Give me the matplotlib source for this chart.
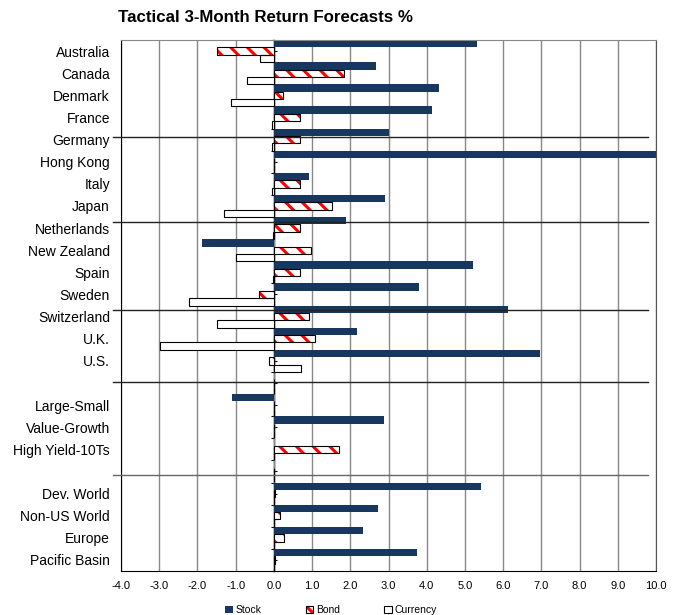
import numpy as np
import matplotlib.pyplot as plt
from matplotlib.patches import Patch
from matplotlib.legend_handler import HandlerTuple

plt.rcParams['font.family'] = ['Liberation Sans', 'DejaVu Sans']
plt.rcParams['hatch.linewidth'] = 2.2

# data (blank slots are spacer rows)
categories = ['Australia', 'Canada', 'Denmark', 'France', 'Germany', 'Hong Kong',
              'Italy', 'Japan', 'Netherlands', 'New Zealand', 'Spain', 'Sweden',
              'Switzerland', 'U.K.', 'U.S.', '', 'Large-Small', 'Value-Growth',
              'High Yield-10Ts', '', 'Dev. World', 'Non-US World', 'Europe',
              'Pacific Basin']
stock = [5.31, 2.66, 4.32, 4.15, 3.00, 10.2, 0.92, 2.91, 1.89, -1.88, 5.21, 3.80,
         6.13, 2.17, 6.97, 0, -1.10, 2.89, 0, 0, 5.41, 2.72, 2.32, 3.75]
bond = [-1.50, 1.84, 0.23, 0.69, 0.69, 0, 0.69, 1.53, 0.69, 0.98, 0.69, -0.38,
        0.91, 1.08, -0.14, 0, 0, 0, 1.71, 0, 0.04, 0.17, 0.26, 0.04]
currency = [-0.37, -0.71, -1.13, -0.04, -0.04, 0, -0.04, -1.31, -0.03, -0.99, -0.03,
            -2.23, -1.48, -2.98, 0.71, 0, 0, 0, 0, 0, 0, 0, 0, 0]
xticks = np.arange(-4, 11)
# hand-drawn separator lines (data y)
sep_y = [3.90, 7.74, 11.69, 14.94, 19.15]

navy = '#18375e'

fig = plt.figure(figsize=(6.78, 6.15), dpi=100)
ax = fig.add_axes([121/678, 1 - 571/615, 535/678, 531/615])

y = np.arange(len(categories))
h = 1/3
ax.barh(y - h, stock, height=h, color=navy, zorder=2)
ax.barh(y, bond, height=h, color='white', edgecolor='red', hatch='\\\\', linewidth=0, zorder=2)
ax.barh(y, bond, height=h, fill=False, edgecolor='black', linewidth=0.8, zorder=3)
ax.barh(y + h, currency, height=h, color='white', edgecolor='black', linewidth=0.8, zorder=2)

ax.set_xlim(-4, 10)
ax.set_ylim(23.5, -0.5)
ax.set_xticks(xticks)
ax.set_xticklabels([f'{v:.1f}' for v in xticks])
ax.set_yticks(y)
ax.set_yticklabels(categories, fontsize=10)
ax.tick_params(axis='y', length=0, pad=8)
ax.tick_params(axis='x', length=0, pad=7.5, labelsize=8)
ax.set_axisbelow(True)
ax.grid(axis='x', color='#888888', lw=1)

ax.spines['left'].set_color('black')
ax.spines['bottom'].set_color('black')
ax.spines['right'].set_color('#555555')
ax.spines['top'].set_color('#888888')

# zero line with the little category ticks
sec = ax.secondary_yaxis(4/14)
sec.set_yticks(np.arange(-0.5, 24, 1))
sec.set_yticks(y, minor=True)
sec.tick_params(which='major', direction='out', length=2.5, width=0.8, labelleft=False)
sec.tick_params(which='minor', direction='in', length=2.5, width=0.8, labelleft=False)
sec.spines['left'].set_linewidth(1)

for i, yy in enumerate(sep_y):
    ax.plot([-4.21, 9.79], [yy, yy], color='#222222' if i < 4 else '#666666',
            lw=1, clip_on=False, zorder=5)

fig.text(118/678, 1 - 18/615, 'Tactical 3-Month Return Forecasts %',
         fontsize=12.2, fontweight='bold', va='center', ha='left')

handles = [Patch(fc=navy),
           (Patch(fc='white', ec='red', hatch='\\\\', lw=0), Patch(fill=False, ec='black', lw=0.8)),
           Patch(fc='white', ec='black', lw=0.8)]
fig.legend(handles, ['Stock', 'Bond', 'Currency'], handler_map={tuple: HandlerTuple(ndivide=1)},
           loc='center', bbox_to_anchor=(331/678, 1 - 610/615), ncol=3, frameon=False,
           fontsize=7.5, handlelength=0.7, handleheight=0.7, handletextpad=0.25,
           columnspacing=4.3)

fig.savefig('out.png', dpi=100)
